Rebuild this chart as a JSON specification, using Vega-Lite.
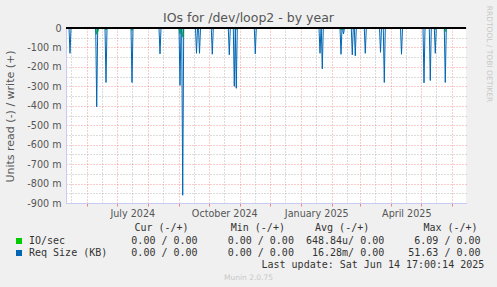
{
  "$schema": "https://vega.github.io/schema/vega-lite/v6.json",
  "width": 400,
  "height": 175,
  "autosize": "none",
  "padding": {"left": 66, "top": 28, "right": 31, "bottom": 84},
  "background": "#f0f0f0",
  "title": {
    "text": "IOs for /dev/loop2 - by year",
    "font": "DejaVu Sans",
    "fontSize": 12.5,
    "fontWeight": "normal",
    "color": "#555555",
    "anchor": "middle",
    "frame": "group",
    "dx": -17.5,
    "dy": 22,
    "offset": 3
  },
  "data": {
    "values": [
      {"date": "2024-05-13T17:00", "series": "Req Size (KB)", "value": 0},
      {"date": "2024-05-14T17:00", "series": "Req Size (KB)", "value": -0.130},
      {"date": "2024-05-15T17:00", "series": "Req Size (KB)", "value": 0},
      {"date": "2024-06-09T10:00", "series": "Req Size (KB)", "value": 0},
      {"date": "2024-06-10T10:00", "series": "Req Size (KB)", "value": -0.405},
      {"date": "2024-06-11T10:00", "series": "Req Size (KB)", "value": 0},
      {"date": "2024-06-18T17:00", "series": "Req Size (KB)", "value": 0},
      {"date": "2024-06-19T17:00", "series": "Req Size (KB)", "value": -0.280},
      {"date": "2024-06-20T17:00", "series": "Req Size (KB)", "value": 0},
      {"date": "2024-07-14T17:00", "series": "Req Size (KB)", "value": 0},
      {"date": "2024-07-15T17:00", "series": "Req Size (KB)", "value": -0.280},
      {"date": "2024-07-16T17:00", "series": "Req Size (KB)", "value": 0},
      {"date": "2024-08-11T17:00", "series": "Req Size (KB)", "value": 0},
      {"date": "2024-08-12T17:00", "series": "Req Size (KB)", "value": -0.133},
      {"date": "2024-08-13T17:00", "series": "Req Size (KB)", "value": 0},
      {"date": "2024-08-31T17:00", "series": "Req Size (KB)", "value": 0},
      {"date": "2024-09-01T17:00", "series": "Req Size (KB)", "value": -0.295},
      {"date": "2024-09-02T17:00", "series": "Req Size (KB)", "value": 0},
      {"date": "2024-09-03T10:00", "series": "Req Size (KB)", "value": 0},
      {"date": "2024-09-04T10:00", "series": "Req Size (KB)", "value": -0.860},
      {"date": "2024-09-05T10:00", "series": "Req Size (KB)", "value": 0},
      {"date": "2024-09-17T05:00", "series": "Req Size (KB)", "value": 0},
      {"date": "2024-09-18T05:00", "series": "Req Size (KB)", "value": -0.130},
      {"date": "2024-09-19T05:00", "series": "Req Size (KB)", "value": 0},
      {"date": "2024-09-20T05:00", "series": "Req Size (KB)", "value": 0},
      {"date": "2024-09-21T05:00", "series": "Req Size (KB)", "value": -0.130},
      {"date": "2024-09-22T05:00", "series": "Req Size (KB)", "value": 0},
      {"date": "2024-10-03T00:00", "series": "Req Size (KB)", "value": 0},
      {"date": "2024-10-04T00:00", "series": "Req Size (KB)", "value": -0.135},
      {"date": "2024-10-05T00:00", "series": "Req Size (KB)", "value": 0},
      {"date": "2024-10-20T00:00", "series": "Req Size (KB)", "value": 0},
      {"date": "2024-10-21T00:00", "series": "Req Size (KB)", "value": -0.138},
      {"date": "2024-10-22T00:00", "series": "Req Size (KB)", "value": 0},
      {"date": "2024-10-25T00:00", "series": "Req Size (KB)", "value": 0},
      {"date": "2024-10-26T00:00", "series": "Req Size (KB)", "value": -0.300},
      {"date": "2024-10-27T00:00", "series": "Req Size (KB)", "value": 0},
      {"date": "2024-10-28T00:00", "series": "Req Size (KB)", "value": -0.310},
      {"date": "2024-10-29T00:00", "series": "Req Size (KB)", "value": 0},
      {"date": "2024-11-15T00:00", "series": "Req Size (KB)", "value": 0},
      {"date": "2024-11-16T00:00", "series": "Req Size (KB)", "value": -0.133},
      {"date": "2024-11-17T00:00", "series": "Req Size (KB)", "value": 0},
      {"date": "2025-01-18T17:00", "series": "Req Size (KB)", "value": 0},
      {"date": "2025-01-19T17:00", "series": "Req Size (KB)", "value": -0.130},
      {"date": "2025-01-20T17:00", "series": "Req Size (KB)", "value": 0},
      {"date": "2025-01-21T00:00", "series": "Req Size (KB)", "value": 0},
      {"date": "2025-01-22T00:00", "series": "Req Size (KB)", "value": -0.210},
      {"date": "2025-01-23T00:00", "series": "Req Size (KB)", "value": 0},
      {"date": "2025-02-08T17:00", "series": "Req Size (KB)", "value": 0},
      {"date": "2025-02-09T17:00", "series": "Req Size (KB)", "value": -0.135},
      {"date": "2025-02-10T17:00", "series": "Req Size (KB)", "value": 0},
      {"date": "2025-02-11T05:00", "series": "Req Size (KB)", "value": 0},
      {"date": "2025-02-12T05:00", "series": "Req Size (KB)", "value": -0.030},
      {"date": "2025-02-13T05:00", "series": "Req Size (KB)", "value": 0},
      {"date": "2025-02-20T00:00", "series": "Req Size (KB)", "value": 0},
      {"date": "2025-02-21T00:00", "series": "Req Size (KB)", "value": -0.138},
      {"date": "2025-02-22T00:00", "series": "Req Size (KB)", "value": 0},
      {"date": "2025-02-23T00:00", "series": "Req Size (KB)", "value": 0},
      {"date": "2025-02-24T00:00", "series": "Req Size (KB)", "value": -0.143},
      {"date": "2025-02-25T00:00", "series": "Req Size (KB)", "value": 0},
      {"date": "2025-03-05T00:00", "series": "Req Size (KB)", "value": 0},
      {"date": "2025-03-06T00:00", "series": "Req Size (KB)", "value": -0.130},
      {"date": "2025-03-07T00:00", "series": "Req Size (KB)", "value": 0},
      {"date": "2025-03-20T05:00", "series": "Req Size (KB)", "value": 0},
      {"date": "2025-03-21T05:00", "series": "Req Size (KB)", "value": -0.125},
      {"date": "2025-03-22T05:00", "series": "Req Size (KB)", "value": 0},
      {"date": "2025-03-24T00:00", "series": "Req Size (KB)", "value": 0},
      {"date": "2025-03-25T00:00", "series": "Req Size (KB)", "value": -0.280},
      {"date": "2025-03-26T00:00", "series": "Req Size (KB)", "value": 0},
      {"date": "2025-04-10T05:00", "series": "Req Size (KB)", "value": 0},
      {"date": "2025-04-11T05:00", "series": "Req Size (KB)", "value": -0.135},
      {"date": "2025-04-12T05:00", "series": "Req Size (KB)", "value": 0},
      {"date": "2025-05-02T17:00", "series": "Req Size (KB)", "value": 0},
      {"date": "2025-05-03T17:00", "series": "Req Size (KB)", "value": -0.282},
      {"date": "2025-05-04T17:00", "series": "Req Size (KB)", "value": 0},
      {"date": "2025-05-09T00:00", "series": "Req Size (KB)", "value": 0},
      {"date": "2025-05-10T00:00", "series": "Req Size (KB)", "value": -0.270},
      {"date": "2025-05-11T00:00", "series": "Req Size (KB)", "value": 0},
      {"date": "2025-05-14T00:00", "series": "Req Size (KB)", "value": 0},
      {"date": "2025-05-15T00:00", "series": "Req Size (KB)", "value": -0.130},
      {"date": "2025-05-16T00:00", "series": "Req Size (KB)", "value": 0},
      {"date": "2025-05-24T00:00", "series": "Req Size (KB)", "value": 0},
      {"date": "2025-05-25T00:00", "series": "Req Size (KB)", "value": -0.280},
      {"date": "2025-05-26T00:00", "series": "Req Size (KB)", "value": 0},
      {"date": "2024-06-09T00:00", "series": "IO/sec", "value": 0},
      {"date": "2024-06-10T00:00", "series": "IO/sec", "value": -0.032},
      {"date": "2024-06-10T20:00", "series": "IO/sec", "value": 0},
      {"date": "2024-06-11T12:00", "series": "IO/sec", "value": -0.018},
      {"date": "2024-06-12T12:00", "series": "IO/sec", "value": 0},
      {"date": "2024-06-18T17:00", "series": "IO/sec", "value": 0},
      {"date": "2024-06-19T17:00", "series": "IO/sec", "value": -0.010},
      {"date": "2024-06-20T17:00", "series": "IO/sec", "value": 0},
      {"date": "2024-07-14T17:00", "series": "IO/sec", "value": 0},
      {"date": "2024-07-15T17:00", "series": "IO/sec", "value": -0.013},
      {"date": "2024-07-16T17:00", "series": "IO/sec", "value": 0},
      {"date": "2024-08-31T17:00", "series": "IO/sec", "value": 0},
      {"date": "2024-09-01T17:00", "series": "IO/sec", "value": -0.030},
      {"date": "2024-09-02T17:00", "series": "IO/sec", "value": 0},
      {"date": "2024-09-03T10:00", "series": "IO/sec", "value": 0},
      {"date": "2024-09-04T10:00", "series": "IO/sec", "value": -0.047},
      {"date": "2024-09-05T10:00", "series": "IO/sec", "value": 0},
      {"date": "2024-10-03T00:00", "series": "IO/sec", "value": 0},
      {"date": "2024-10-04T00:00", "series": "IO/sec", "value": -0.005},
      {"date": "2024-10-05T00:00", "series": "IO/sec", "value": 0},
      {"date": "2024-10-27T00:00", "series": "IO/sec", "value": 0},
      {"date": "2024-10-28T00:00", "series": "IO/sec", "value": -0.008},
      {"date": "2024-10-29T00:00", "series": "IO/sec", "value": 0},
      {"date": "2025-02-08T17:00", "series": "IO/sec", "value": 0},
      {"date": "2025-02-09T17:00", "series": "IO/sec", "value": -0.010},
      {"date": "2025-02-10T17:00", "series": "IO/sec", "value": 0},
      {"date": "2025-02-11T05:00", "series": "IO/sec", "value": 0},
      {"date": "2025-02-12T05:00", "series": "IO/sec", "value": -0.008},
      {"date": "2025-02-13T05:00", "series": "IO/sec", "value": 0},
      {"date": "2025-02-21T00:00", "series": "IO/sec", "value": 0},
      {"date": "2025-02-22T00:00", "series": "IO/sec", "value": -0.006},
      {"date": "2025-02-23T00:00", "series": "IO/sec", "value": 0},
      {"date": "2025-05-02T17:00", "series": "IO/sec", "value": 0},
      {"date": "2025-05-03T17:00", "series": "IO/sec", "value": -0.005},
      {"date": "2025-05-04T17:00", "series": "IO/sec", "value": 0},
      {"date": "2025-05-14T00:00", "series": "IO/sec", "value": 0},
      {"date": "2025-05-15T00:00", "series": "IO/sec", "value": -0.008},
      {"date": "2025-05-16T00:00", "series": "IO/sec", "value": 0},
      {"date": "2025-05-24T00:00", "series": "IO/sec", "value": 0},
      {"date": "2025-05-25T00:00", "series": "IO/sec", "value": -0.018},
      {"date": "2025-05-26T00:00", "series": "IO/sec", "value": 0}
    ]
  },
  "layer": [
    {
      "transform": [{"filter": "datum.series == 'IO/sec'"}],
      "mark": {"type": "line", "strokeWidth": 1, "interpolate": "linear"},
      "encoding": {
        "x": {
          "field": "date",
          "type": "temporal",
          "scale": {"domain": [{"year": 2024, "month": 5, "date": 10, "hours": 17}, {"year": 2025, "month": 6, "date": 14, "hours": 17}]},
          "axis": {
            "orient": "top",
            "values": [
              {"year": 2024, "month": 5, "date": 16},
              {"year": 2024, "month": 6, "date": 16},
              {"year": 2024, "month": 7, "date": 16},
              {"year": 2024, "month": 8, "date": 16},
              {"year": 2024, "month": 9, "date": 16},
              {"year": 2024, "month": 10, "date": 16},
              {"year": 2024, "month": 11, "date": 16},
              {"year": 2024, "month": 12, "date": 16},
              {"year": 2025, "month": 1, "date": 16},
              {"year": 2025, "month": 2, "date": 16},
              {"year": 2025, "month": 3, "date": 16},
              {"year": 2025, "month": 4, "date": 16},
              {"year": 2025, "month": 5, "date": 16}
            ],
            "grid": true,
            "gridColor": "#a8a8a8",
            "gridDash": [1, 2],
            "gridOpacity": 0.8,
            "labels": false,
            "ticks": false,
            "domain": false,
            "title": "Munin 2.0.75",
            "titleFont": "DejaVu Sans",
            "titleFontSize": 7.5,
            "titleFontWeight": "normal",
            "titleColor": "#c8c8c8",
            "titleAlign": "center",
            "titleBaseline": "alphabetic",
            "titleX": 182,
            "titleY": 251
          }
        },
        "y": {
          "field": "value",
          "type": "quantitative",
          "scale": {"domain": [-0.9, 0], "nice": false, "zero": false},
          "axis": {
            "orient": "right",
            "values": [-0.05, -0.15, -0.25, -0.35, -0.45, -0.55, -0.65, -0.75, -0.85],
            "grid": true,
            "gridColor": "#a8a8a8",
            "gridDash": [1, 2],
            "gridOpacity": 0.8,
            "labels": false,
            "ticks": false,
            "domain": false,
            "title": "RRDTOOL / TOBI OETIKER",
            "titleFont": "DejaVu Sans",
            "titleFontSize": 7.5,
            "titleFontWeight": "normal",
            "titleColor": "#c8c8c8",
            "titleAngle": 90,
            "titleAlign": "center",
            "titleBaseline": "middle",
            "titleX": 22,
            "titleY": 25.5
          }
        },
        "color": {
          "field": "series",
          "type": "nominal",
          "scale": {"domain": ["IO/sec", "Req Size (KB)"], "range": ["#00cc00", "#0066b3"]},
          "legend": {
            "title": "\u200b\u00a0\u00a0\u00a0\u00a0\u00a0\u00a0\u00a0\u00a0\u00a0\u00a0\u00a0\u00a0\u00a0\u00a0\u00a0\u00a0\u00a0\u00a0\u00a0\u00a0Cur (-/+)\u00a0\u00a0\u00a0\u00a0\u00a0\u00a0\u00a0Min (-/+)\u00a0\u00a0\u00a0\u00a0\u00a0Avg (-/+)\u00a0\u00a0\u00a0\u00a0\u00a0\u00a0\u00a0\u00a0\u00a0Max (-/+)",
            "labelExpr": "datum.label == 'IO/sec' ? 'IO/sec\u00a0\u00a0\u00a0\u00a0\u00a0\u00a0\u00a0\u00a0\u00a0\u00a0\u00a00.00\u00a0/\u00a00.00\u00a0\u00a0\u00a0\u00a0\u00a00.00\u00a0/\u00a00.00\u00a0\u00a0648.84u/\u00a00.00\u00a0\u00a0\u00a0\u00a0\u00a06.09\u00a0/\u00a00.00' : 'Req\u00a0Size\u00a0(KB)\u00a0\u00a0\u00a0\u00a00.00\u00a0/\u00a00.00\u00a0\u00a0\u00a0\u00a0\u00a00.00\u00a0/\u00a00.00\u00a0\u00a0\u00a016.28m/\u00a00.00\u00a0\u00a0\u00a0\u00a051.63\u00a0/\u00a00.00'",
            "encode": {"symbols": {"update": {"fill": {"scale": "color", "field": "value"}, "strokeWidth": {"value": 0}}}}
          }
        }
      }
    },
    {
      "transform": [{"filter": "datum.series == 'Req Size (KB)'"}],
      "mark": {"type": "line", "strokeWidth": 1, "interpolate": "linear"},
      "encoding": {
        "x": {
          "field": "date",
          "type": "temporal",
          "axis": {
            "orient": "bottom",
            "values": [
              {"year": 2024, "month": 6, "date": 1},
              {"year": 2024, "month": 7, "date": 1},
              {"year": 2024, "month": 8, "date": 1},
              {"year": 2024, "month": 9, "date": 1},
              {"year": 2024, "month": 10, "date": 1},
              {"year": 2024, "month": 11, "date": 1},
              {"year": 2024, "month": 12, "date": 1},
              {"year": 2025, "month": 1, "date": 1},
              {"year": 2025, "month": 2, "date": 1},
              {"year": 2025, "month": 3, "date": 1},
              {"year": 2025, "month": 4, "date": 1},
              {"year": 2025, "month": 5, "date": 1},
              {"year": 2025, "month": 6, "date": 1}
            ],
            "labelExpr": "indexof([6, 9, 0, 3], month(datum.value)) >= 0 ? timeFormat(datum.value, '%B %Y') : ''",
            "labelOffset": 15,
            "labelFlush": false,
            "labelOverlap": false,
            "labelPadding": 2,
            "grid": true,
            "gridColor": "#f07070",
            "gridDash": [1, 2],
            "gridOpacity": 0.7,
            "ticks": true,
            "tickSize": 3,
            "tickColor": "#f08080",
            "domain": true,
            "domainColor": "#c8ccf5",
            "title": "Last update: Sat Jun 14 17:00:14 2025",
            "titleFont": "DejaVu Sans Mono",
            "titleFontSize": 10,
            "titleFontWeight": "normal",
            "titleColor": "#333333",
            "titleAlign": "left",
            "titleBaseline": "alphabetic",
            "titleX": 195,
            "titleY": 64
          }
        },
        "y": {
          "field": "value",
          "type": "quantitative",
          "axis": {
            "orient": "left",
            "values": [0, -0.1, -0.2, -0.3, -0.4, -0.5, -0.6, -0.7, -0.8, -0.9],
            "labelExpr": "datum.value == 0 ? '0\u00a0\u00a0' : '-' + format(abs(datum.value) * 1000, '.0f') + ' m'",
            "grid": true,
            "gridColor": "#f07070",
            "gridDash": [1, 2],
            "gridOpacity": 0.7,
            "ticks": false,
            "labelPadding": 5,
            "domain": true,
            "domainColor": "#c8ccf5",
            "title": "Units read (-) / write (+)",
            "titleFont": "DejaVu Sans",
            "titleFontSize": 11,
            "titleFontWeight": "normal",
            "titleColor": "#555555",
            "titleX": -56,
            "titleY": 88,
            "titleAlign": "center",
            "titleBaseline": "middle",
            "titleAngle": 270
          }
        },
        "color": {
          "field": "series",
          "type": "nominal",
          "scale": {"domain": ["IO/sec", "Req Size (KB)"], "range": ["#00cc00", "#0066b3"]}
        }
      }
    },
    {
      "mark": {"type": "rule", "color": "#000000", "strokeWidth": 1},
      "encoding": {
        "y": {"datum": 0, "type": "quantitative", "axis": null}
      }
    }
  ],
  "config": {
    "view": {"fill": "white", "stroke": null},
    "axis": {
      "labelFont": "DejaVu Sans",
      "labelFontSize": 9.6,
      "labelColor": "#555555"
    },
    "legend": {
      "orient": "none",
      "legendX": -52,
      "legendY": 195,
      "padding": 0,
      "titleFont": "DejaVu Sans Mono",
      "titleFontSize": 10,
      "titleFontWeight": "normal",
      "titleColor": "#333333",
      "titleLimit": 1000,
      "titlePadding": 3,
      "labelFont": "DejaVu Sans Mono",
      "labelFontSize": 10,
      "labelColor": "#333333",
      "labelLimit": 1000,
      "labelOffset": 5,
      "rowPadding": 2,
      "symbolType": "square",
      "symbolSize": 36
    }
  }
}
